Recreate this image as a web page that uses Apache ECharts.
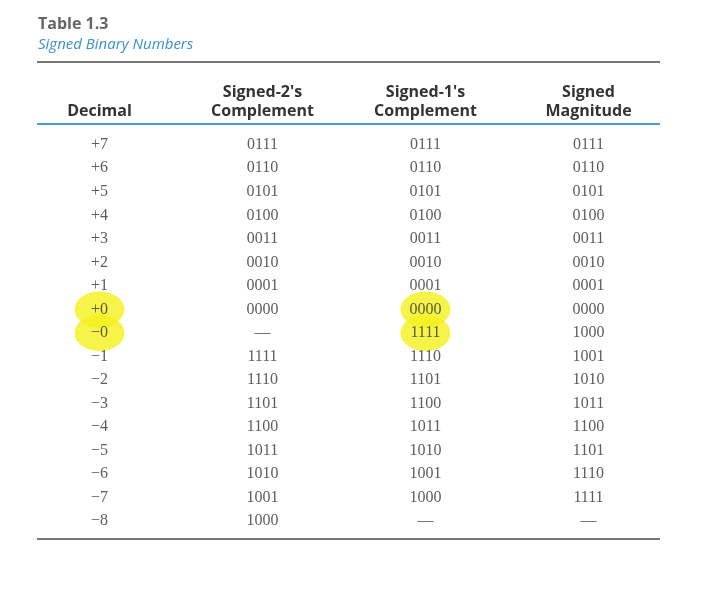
<!DOCTYPE html>
<html><head><meta charset="utf-8">
<script src="https://cdn.jsdelivr.net/npm/echarts@6/dist/echarts.min.js"></script>
<style>html,body{margin:0;background:#fff}#c{width:720px;height:592px}</style>
</head><body><div id="c"></div>
<script>
const headers = ['\nDecimal', "Signed-2's\nComplement", "Signed-1's\nComplement", 'Signed\nMagnitude'];
const decimal = ['+7','+6','+5','+4','+3','+2','+1','+0','\u22120','\u22121','\u22122','\u22123','\u22124','\u22125','\u22126','\u22127','\u22128'];
const twos = ['0111','0110','0101','0100','0011','0010','0001','0000','\u2014','1111','1110','1101','1100','1011','1010','1001','1000'];
const ones = ['0111','0110','0101','0100','0011','0010','0001','0000','1111','1110','1101','1100','1011','1010','1001','1000','\u2014'];
const mag = ['0111','0110','0101','0100','0011','0010','0001','0000','1000','1001','1010','1011','1100','1101','1110','1111','\u2014'];
const highlighted = [[0,7],[0,8],[2,7],[2,8]];

const chart = echarts.init(document.getElementById('c'));
const cols = [decimal, twos, ones, mag];
const cellData = [];
cols.forEach((col, ci) => col.forEach((v, ri) => cellData.push({value:[ci, ri], label:{formatter: v}})));
chart.setOption({
  animation:false,
  grid:{left:18, right:50, top:133, bottom:59},
  xAxis:{type:'category', position:'top', data:headers, axisLine:{show:false}, axisTick:{show:false},
    axisLabel:{interval:0, margin:12, fontFamily:'Open Sans', fontWeight:'bold', fontSize:16, color:'#333', lineHeight:19}},
  yAxis:{type:'category', inverse:true, data:decimal, show:false},
  graphic:[
    {type:'text', left:38, top:16, style:{text:'Table 1.3', font:'bold 16px "Open Sans"', fill:'#666'}},
    {type:'text', left:38, top:37, style:{text:'Signed Binary Numbers', font:'italic 15px "Open Sans"', fill:'#3b8fcb'}},
    {type:'line', shape:{x1:37,y1:62,x2:660,y2:62}, style:{stroke:'#777', lineWidth:2}},
    {type:'line', shape:{x1:37,y1:124,x2:660,y2:124}, style:{stroke:'#4a9ad4', lineWidth:2}},
    {type:'line', shape:{x1:37,y1:539,x2:660,y2:539}, style:{stroke:'#777', lineWidth:2}}
  ],
  series:[
    {type:'scatter', data:highlighted, symbol:'circle', symbolSize:[50,36], itemStyle:{color:'#f4f01c'}, z:1},
    {type:'scatter', data:cellData, symbolSize:0, z:2,
      label:{show:true, position:'inside', fontFamily:'Liberation Serif', fontSize:16, color:'#333'}}
  ]
});
</script></body></html>
